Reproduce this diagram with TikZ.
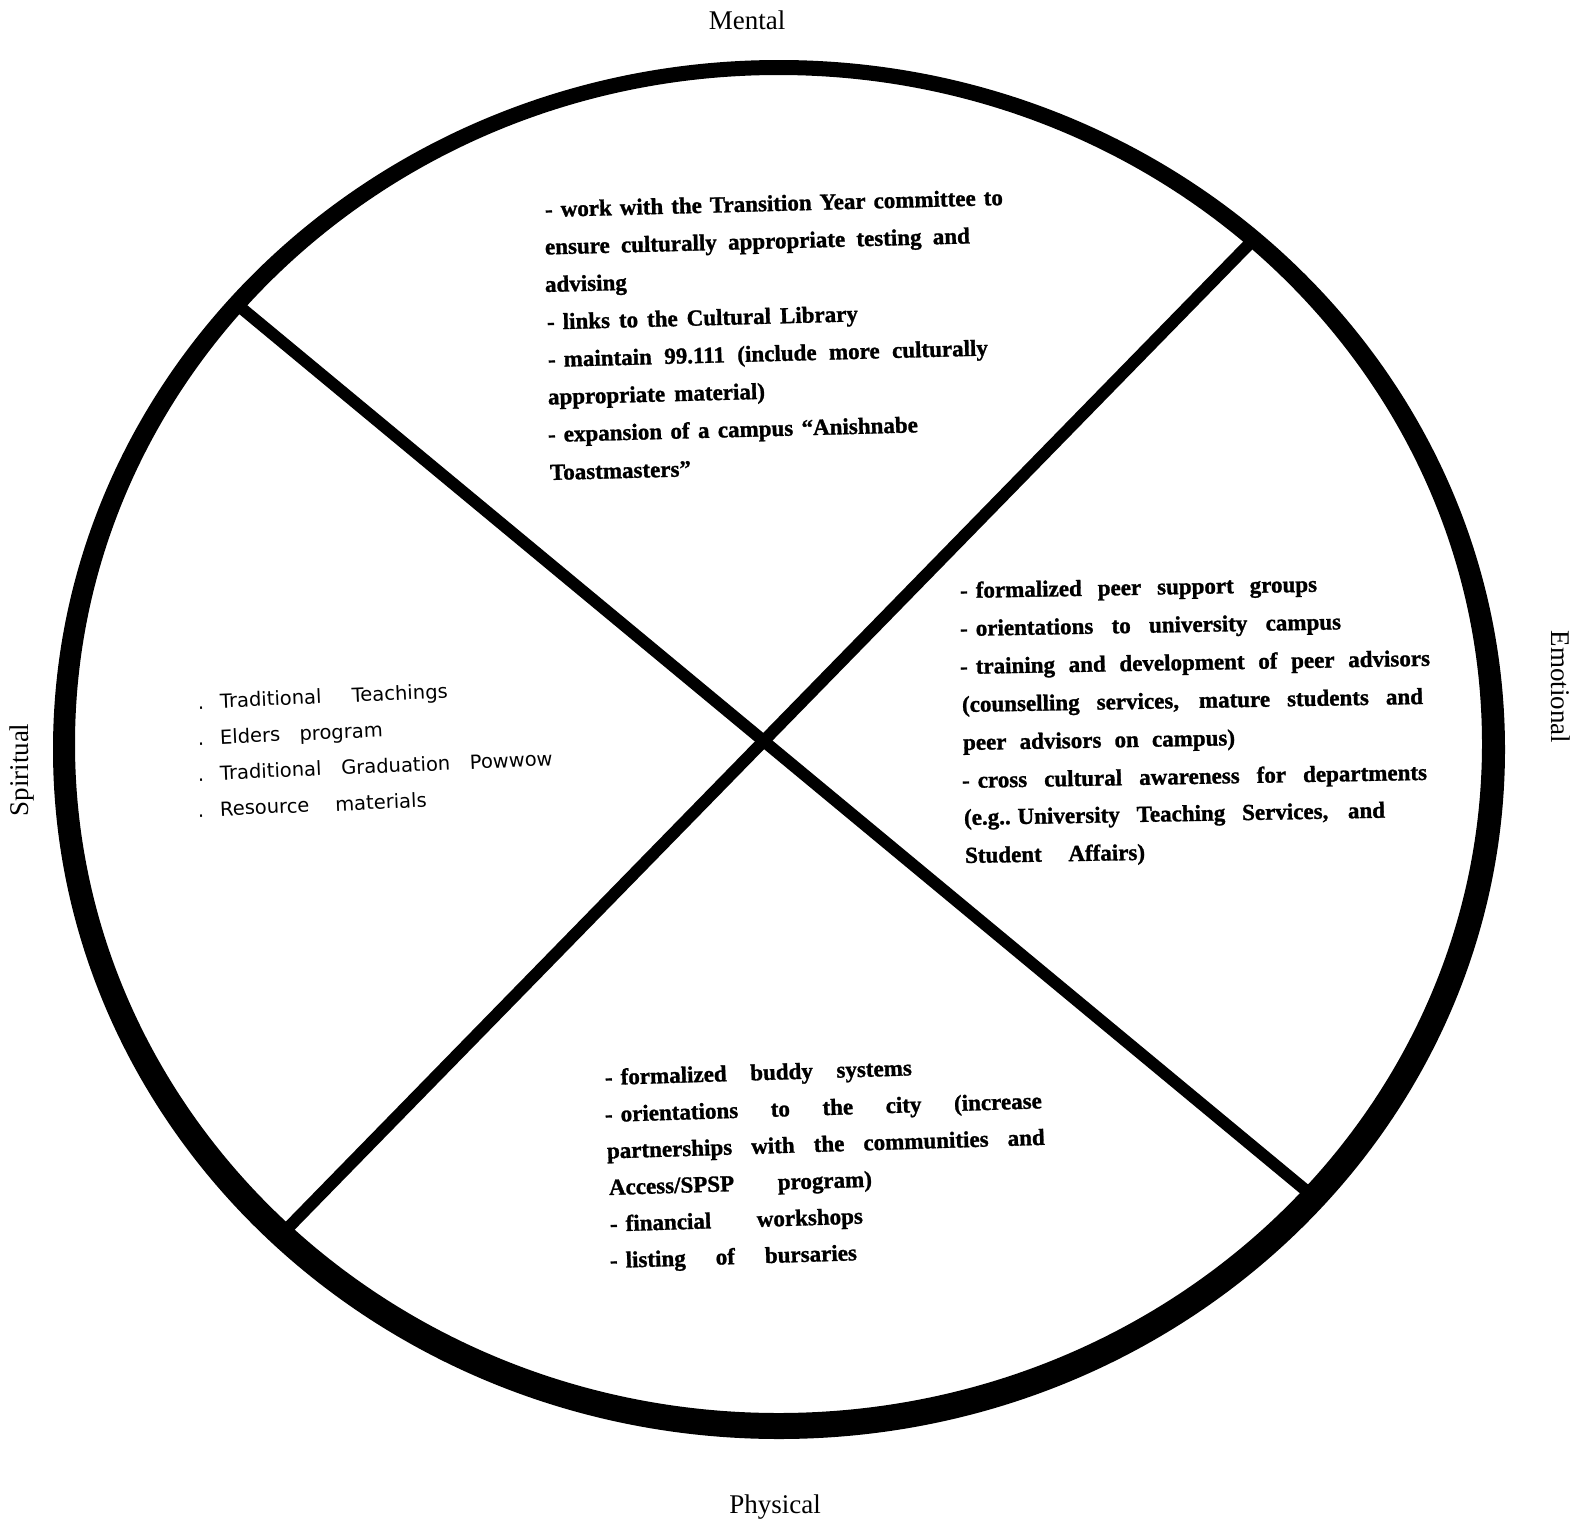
\documentclass[tikz,border=0pt]{standalone}
\usepackage{fontspec}
\setmainfont{Liberation Serif}
\newfontfamily\bodyfont{Liberation Serif}[Ligatures=TeX,BoldFeatures={FakeBold=1.2}]
\newfontfamily\spfont{DejaVu Sans}
\newcommand\jbox[2]{\makebox[#1pt][s]{#2}}
\newcommand\dsh{-\hspace{0.35em}}
\begin{document}
\begin{tikzpicture}[x=1pt,y=-1pt,
  bodytxt/.style={font=\bodyfont\fontsize{23}{28}\selectfont\bfseries, inner sep=0pt, anchor=base west},
  mtxt/.style={bodytxt, rotate=1.5},
  etxt/.style={bodytxt, rotate=1},
  ptxt/.style={bodytxt, rotate=1.8},
  sptxt/.style={font=\spfont\fontsize{19.5}{24}\selectfont, inner sep=0pt, anchor=base west, rotate=2.5},
  quadlabel/.style={font=\fontsize{27}{32}\selectfont, inner sep=0pt},
  divider/.style={line width=12pt}]
\useasboundingbox (0,0) rectangle (1588,1521);
\fill[white] (0,0) rectangle (1588,1521);

% dividers
\coordinate (l1a) at (234,302);
\coordinate (l1b) at (1309,1193);
\coordinate (l2a) at (1258,235);
\coordinate (l2b) at (284,1232);
\draw[divider] (l1a) -- (l1b);
\draw[divider] (l2a) -- (l2b);

% ring (thicker at the bottom)
\fill[black, even odd rule] (779,749.5) ellipse [x radius=726, y radius=689.5]
  (778.5,744) ellipse [x radius=703.5, y radius=669];

% quadrant labels
\node[quadlabel] (mental) at (747,20) {Mental};
\node[quadlabel] (physical) at (775,1507) {Physical};
\node[quadlabel, rotate=90] (spiritual) at (22,770) {Spiritual};
\node[quadlabel, rotate=-90] (emotional) at (1561,687) {Emotional};

% Mental
\node[mtxt] (m1) at (545,217) {\jbox{458}{\dsh work with the Transition Year committee to}};
\node[mtxt] (m2) at (545,254.5) {\jbox{425}{ensure culturally appropriate testing and}};
\node[mtxt] (m3) at (545,292) {advising};
\node[mtxt] (m4) at (547,329.5) {\jbox{311}{\dsh links to the Cultural Library}};
\node[mtxt] (m5) at (548,367) {\jbox{440}{\dsh maintain 99.111 (include more culturally}};
\node[mtxt] (m6) at (548,404.5) {\jbox{217}{appropriate material)}};
\node[mtxt] (m7) at (548,442) {\jbox{370}{\dsh expansion of a campus “Anishnabe}};
\node[mtxt] (m8) at (550,480) {Toastmasters”};

% Emotional
\node[etxt] (e1) at (960,598) {\jbox{357}{\dsh formalized peer support groups}};
\node[etxt] (e2) at (960,636) {\jbox{381}{\dsh orientations to university campus}};
\node[etxt] (e3) at (960,674) {\jbox{470}{\dsh training and development of peer advisors}};
\node[etxt] (e4) at (962,712) {\jbox{461}{(counselling services, mature students and}};
\node[etxt] (e5) at (963,750) {\jbox{272}{peer advisors on campus)}};
\node[etxt] (e6) at (962,788) {\jbox{465}{\dsh cross cultural awareness for departments}};
\node[etxt] (e7) at (964,825) {\jbox{421}{(e.g..\hspace{0.3em}University Teaching Services, and}};
\node[etxt] (e8) at (965,863) {\jbox{180}{Student Affairs)}};

% Physical
\node[ptxt] (p1) at (605,1085) {\jbox{307}{\dsh formalized buddy systems}};
\node[ptxt] (p2) at (605,1122) {\jbox{437}{\dsh orientations to the city (increase}};
\node[ptxt] (p3) at (607,1158.5) {\jbox{438}{partnerships with the communities and}};
\node[ptxt] (p4) at (609,1195) {\jbox{263}{Access/SPSP program)}};
\node[ptxt] (p5) at (610,1231.5) {\jbox{253}{\dsh financial workshops}};
\node[ptxt] (p6) at (610,1268) {\jbox{247}{\dsh listing of bursaries}};

% Spiritual
\node[sptxt] (s1) at (198,709) {\jbox{250}{.\hspace{16pt}Traditional Teachings}};
\node[sptxt] (s2) at (198,745) {\jbox{185}{.\hspace{16pt}Elders program}};
\node[sptxt] (s3) at (198,781) {\jbox{355}{.\hspace{16pt}Traditional Graduation Powwow}};
\node[sptxt] (s4) at (198,817) {\jbox{229}{.\hspace{16pt}Resource materials}};
\end{tikzpicture}
\end{document}
